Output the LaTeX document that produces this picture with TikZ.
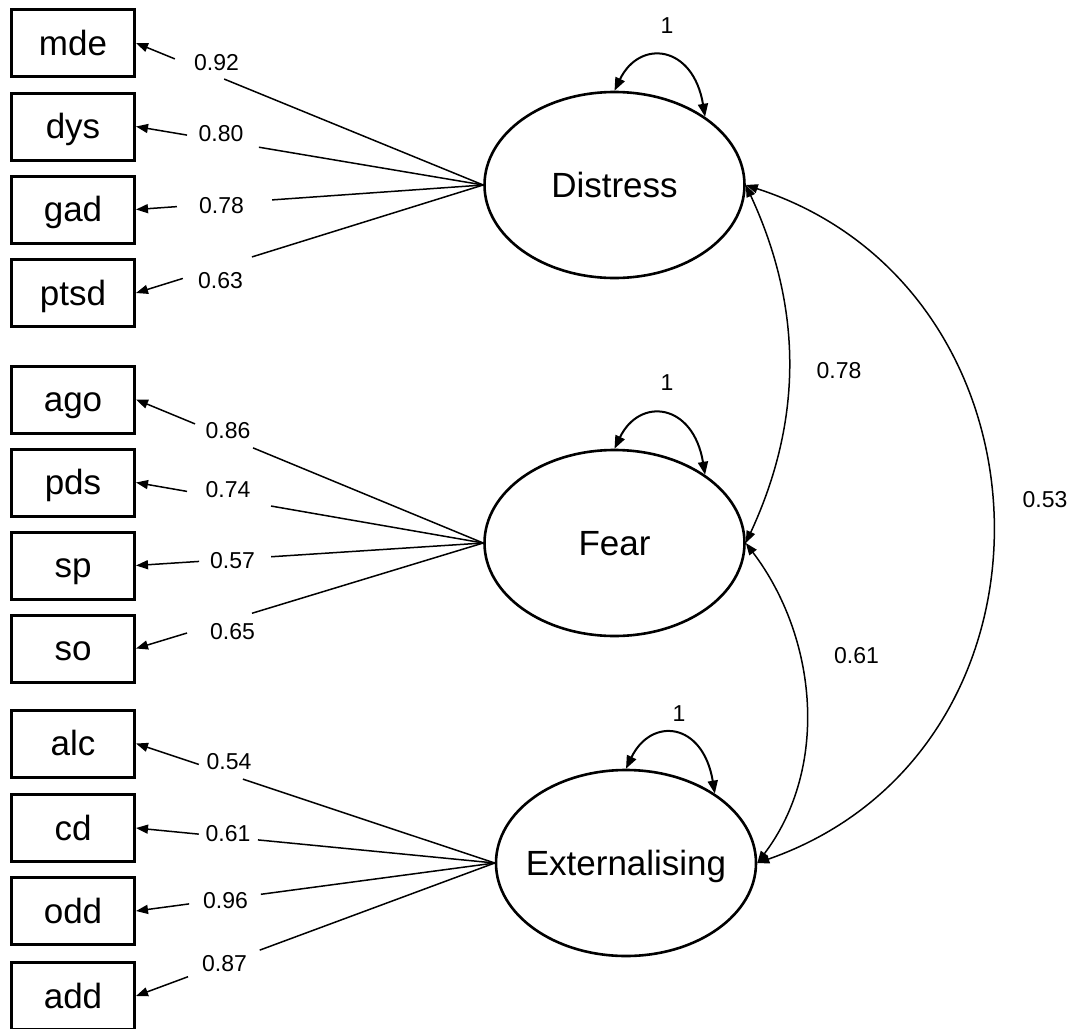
\documentclass[tikz,border=0pt]{standalone}
\usepackage{fontspec}
\setmainfont{Liberation Sans}
\usetikzlibrary{shapes.geometric,arrows.meta,calc}

\begin{document}
\begin{tikzpicture}[x=1pt,y=1pt,
  indicator/.style={draw, line width=3pt, rectangle, minimum width=123pt,
    minimum height=67pt, inner sep=0pt, font=\fontsize{35}{40}\selectfont,
    text height=24pt, text depth=0pt},
  factor/.style={draw, line width=2.6pt, ellipse, minimum width=260pt,
    minimum height=186pt, inner sep=0pt, font=\fontsize{35}{40}\selectfont,
    text height=24pt, text depth=0pt},
  coef/.style={font=\fontsize{23}{26}\selectfont, inner sep=0pt},
  tip/.style={Triangle[length=12pt,width=9pt]},
  load/.style={line width=1.5pt, -{Triangle[length=12pt,width=9pt]}},
  cov/.style={line width=1.5pt, {Triangle[length=12pt,width=9pt]}-{Triangle[length=12pt,width=9pt]}},
  var/.style={line width=2pt, {Triangle[length=13pt,width=10pt]}-{Triangle[length=13pt,width=10pt]}},
]
\fill[white] (0,0) rectangle (1073,-1028);
\useasboundingbox (0,0) rectangle (1073,-1028);

% observed indicators
\node[indicator] (mde)  at (73,-43)    {mde};
\node[indicator] (dys)  at (73,-126.5) {dys};
\node[indicator] (gad)  at (73,-209.5) {gad};
\node[indicator] (ptsd) at (73,-293)   {ptsd};
\node[indicator] (ago)  at (73,-399.5) {ago};
\node[indicator] (pds)  at (73,-482.5) {pds};
\node[indicator] (sp)   at (73,-565.5) {sp};
\node[indicator] (so)   at (73,-648.5) {so};
\node[indicator] (alc)  at (73,-743.5) {alc};
\node[indicator] (cd)   at (73,-828)   {cd};
\node[indicator] (odd)  at (73,-911)   {odd};
\node[indicator] (add)  at (73,-996)   {add};

% latent factors
\node[factor] (dis)  at (614.5,-185) {\makebox[0pt]{Distress}};
\node[factor] (fear) at (614.5,-543) {\makebox[0pt]{Fear}};
\node[factor] (ext)  at (626,-863)   {\makebox[0pt]{Externalising}};

% factor loadings, each line broken where its coefficient sits
\foreach \b/\fa/\fb in {mde/0.746/0.888, dys/0.646/0.853, gad/0.608/0.882, ptsd/0.666/0.865}
  \draw[load] (dis.west) -- ($(dis.west)!\fa!(\b.east)$) ($(dis.west)!\fb!(\b.east)$) -- (\b.east);
\foreach \b/\fa/\fb in {ago/0.663/0.830, pds/0.611/0.853, sp/0.611/0.818, so/0.666/0.853}
  \draw[load] (fear.west) -- ($(fear.west)!\fa!(\b.east)$) ($(fear.west)!\fb!(\b.east)$) -- (\b.east);
\foreach \b/\fa/\fb in {alc/0.702/0.825, cd/0.660/0.825, odd/0.652/0.852, add/0.655/0.855}
  \draw[load] (ext.west) -- ($(ext.west)!\fa!(\b.east)$) ($(ext.west)!\fb!(\b.east)$) -- (\b.east);

\node[coef] (l1)  at (216.5,-63)   {0.92};
\node[coef] (l2)  at (221,-134)    {0.80};
\node[coef] (l3)  at (221.5,-205.5){0.78};
\node[coef] (l4)  at (220.5,-281)  {0.63};
\node[coef] (l5)  at (228,-430.5)  {0.86};
\node[coef] (l6)  at (228,-490)    {0.74};
\node[coef] (l7)  at (232.5,-560.5){0.57};
\node[coef] (l8)  at (232.5,-631.5){0.65};
\node[coef] (l9)  at (229,-762)    {0.54};
\node[coef] (l10) at (228,-834)    {0.61};
\node[coef] (l11) at (225.5,-900.5){0.96};
\node[coef] (l12) at (224.5,-964)  {0.87};

% factor variances
\draw[var] (dis.north)  .. controls +(25,52) and +(-12,72) .. (dis.37);
\draw[var] (fear.north) .. controls +(25,52) and +(-12,72) .. (fear.37);
\draw[var] (ext.north)  .. controls +(25,52) and +(-12,72) .. (ext.38);
\node[coef] (v1) at (667,-26)  {1};
\node[coef] (v2) at (667,-383) {1};
\node[coef] (v3) at (679,-714) {1};

% factor correlations
\draw[cov] (dis.east)  .. controls +(57,-123) and +(57,123) .. (fear.east);
\draw[cov] (fear.east) .. controls +(72,-95) and +(72,95) .. (ext.east);
\draw[cov] (dis.east)  .. controls +(320,-104) and +(320,112) .. (ext.east);
\node[coef] (c1) at (839,-371)  {0.78};
\node[coef] (c2) at (856.5,-655.5) {0.61};
\node[coef] (c3) at (1045,-500) {0.53};
\end{tikzpicture}
\end{document}
